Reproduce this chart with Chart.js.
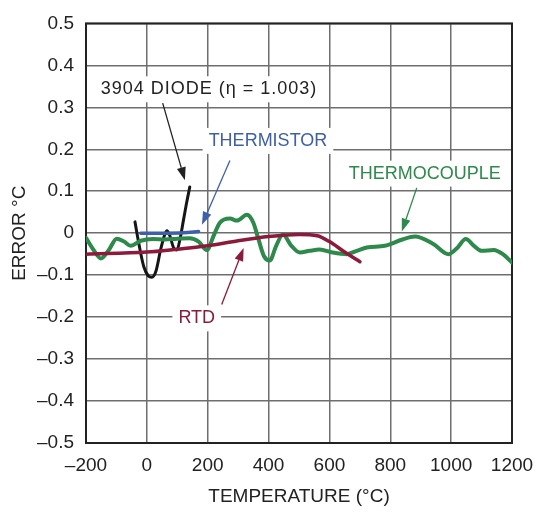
<!DOCTYPE html>
<html>
<head>
<meta charset="utf-8">
<script src="https://cdn.jsdelivr.net/npm/chart.js@4.4.1/dist/chart.umd.min.js"></script>
<style>
  html, body { margin: 0; padding: 0; background: #fff; }
  #wrap { width: 550px; height: 515px; }
</style>
</head>
<body>
<div id="wrap"><canvas id="errChart"></canvas></div>
<script>
// Axis ticks
const xTicks = [-200, 0, 200, 400, 600, 800, 1000, 1200];
const yTicks = [-0.5, -0.4, -0.3, -0.2, -0.1, 0, 0.1, 0.2, 0.3, 0.4, 0.5];

// Thermocouple error
const thermocoupleTemp = [-200, -175, -151, -125, -99, -75, -53, -20, 20, 60, 100, 141, 170, 197, 220, 240, 273, 296, 329, 350, 365, 385, 404, 425, 447, 475, 503, 535, 568, 610, 657, 690, 723, 782, 840, 881, 940, 992, 1020, 1048, 1075, 1100, 1140, 1170, 1200];
const thermocoupleErr = [-0.011, -0.04, -0.06, -0.04, -0.013, -0.02, -0.03, -0.018, -0.014, -0.015, -0.013, -0.012, -0.02, -0.04, -0.005, 0.025, 0.035, 0.03, 0.044, 0.025, -0.01, -0.055, -0.065, -0.03, -0.003, -0.03, -0.046, -0.042, -0.039, -0.046, -0.05, -0.042, -0.034, -0.03, -0.015, -0.008, -0.025, -0.05, -0.035, -0.014, -0.03, -0.042, -0.04, -0.05, -0.07];

// RTD error
const rtdTemp = [-200, 0, 100, 200, 300, 400, 500, 560, 600, 650, 700];
const rtdErr = [-0.05, -0.045, -0.038, -0.03, -0.018, -0.008, -0.003, -0.006, -0.02, -0.045, -0.068];

// Thermistor error
const thermistorTemp = [-20, 50, 120, 170];
const thermistorErr = [0.0, 0.0, 0.001, 0.004];

// 3904 diode error
const diodeTemp = [-39, -25, -10, 5, 16, 30, 45, 58, 66, 75, 88, 99, 110, 120, 130, 141];
const diodeErr = [0.027, -0.03, -0.08, -0.102, -0.105, -0.09, -0.04, -0.005, 0.006, -0.005, -0.035, -0.04, -0.01, 0.03, 0.07, 0.11];

const GREEN = '#2d8a4b';
const RED = '#8b1a3b';
const BLUE = '#3e60a8';
const BLACK = '#161616';

// Callout labels and arrows (data coordinates)
const notes = [
    { text: '3904 DIODE (\u03b7 = 1.003)', x: 204, y: 0.343, color: '#222', spacing: '1px' },
    { text: 'THERMISTOR', x: 398, y: 0.22, color: BLUE, spacing: '0px' },
    { text: 'THERMOCOUPLE', x: 913, y: 0.142, color: GREEN, spacing: '0px' },
    { text: 'RTD', x: 164, y: -0.203, color: RED, spacing: '0px' }
];
const arrows = [
    { from: [52, 0.31], to: [125, 0.126], color: '#222' },
    { from: [273, 0.173], to: [181, 0.02], color: BLUE },
    { from: [887, 0.108], to: [838, 0.004], color: GREEN },
    { from: [246, -0.17], to: [318, -0.035], color: RED }
];

function pts(xs, ys) {
    return xs.map((x, i) => ({ x: x, y: ys[i] }));
}

function dash(v) {
    if (v === 0) return '0';
    return v < 0 ? '\u2013' + Math.abs(v) : String(v);
}

const FONT = '"Liberation Sans", Arial, sans-serif';

const calloutPlugin = {
    id: 'callouts',
    beforeDatasetsDraw(chart) {
        const { ctx, chartArea: a, scales: { x, y } } = chart;
        ctx.save();
        ctx.font = '18px ' + FONT;
        ctx.textAlign = 'center';
        ctx.textBaseline = 'middle';
        notes.forEach(n => {
            const px = x.getPixelForValue(n.x);
            const py = y.getPixelForValue(n.y);
            ctx.letterSpacing = n.spacing;
            const w = ctx.measureText(n.text).width;
            ctx.fillStyle = '#fff';
            ctx.fillRect(px - w / 2 - 6, py - 13, w + 12, 26);
            ctx.fillStyle = n.color;
            ctx.fillText(n.text, px, py);
        });
        ctx.letterSpacing = '0px';
        // plot frame
        ctx.strokeStyle = '#222';
        ctx.lineWidth = 2;
        ctx.strokeRect(a.left, a.top, a.right - a.left, a.bottom - a.top);
        ctx.restore();
    },
    afterDatasetsDraw(chart) {
        const { ctx, scales: { x, y } } = chart;
        ctx.save();
        arrows.forEach(ar => {
            const x0 = x.getPixelForValue(ar.from[0]);
            const y0 = y.getPixelForValue(ar.from[1]);
            const x1 = x.getPixelForValue(ar.to[0]);
            const y1 = y.getPixelForValue(ar.to[1]);
            const ang = Math.atan2(y1 - y0, x1 - x0);
            const len = 13, half = 4.5;
            const bx = x1 - Math.cos(ang) * len;
            const by = y1 - Math.sin(ang) * len;
            ctx.strokeStyle = ar.color;
            ctx.fillStyle = ar.color;
            ctx.lineWidth = 1.3;
            ctx.beginPath();
            ctx.moveTo(x0, y0);
            ctx.lineTo(bx, by);
            ctx.stroke();
            ctx.beginPath();
            ctx.moveTo(x1, y1);
            ctx.lineTo(bx + Math.sin(ang) * half, by - Math.cos(ang) * half);
            ctx.lineTo(bx - Math.sin(ang) * half, by + Math.cos(ang) * half);
            ctx.closePath();
            ctx.fill();
        });
        ctx.restore();
    }
};

const lineStyle = {
    fill: false,
    pointRadius: 0,
    cubicInterpolationMode: 'monotone',
    borderCapStyle: 'round',
    borderJoinStyle: 'round'
};

new Chart(document.getElementById('errChart'), {
    type: 'line',
    data: {
        datasets: [
            Object.assign({ label: 'RTD', data: pts(rtdTemp, rtdErr), borderColor: RED, borderWidth: 3.5 }, lineStyle),
            Object.assign({ label: 'Thermocouple', data: pts(thermocoupleTemp, thermocoupleErr), borderColor: GREEN, borderWidth: 4 }, lineStyle),
            Object.assign({ label: 'Thermistor', data: pts(thermistorTemp, thermistorErr), borderColor: BLUE, borderWidth: 3.5 }, lineStyle),
            Object.assign({ label: '3904 Diode', data: pts(diodeTemp, diodeErr), borderColor: BLACK, borderWidth: 3 }, lineStyle)
        ]
    },
    options: {
        responsive: true,
        maintainAspectRatio: false,
        animation: false,
        layout: { padding: { left: 0, top: 18, right: 38, bottom: 0 } },
        plugins: {
            legend: { display: false },
            tooltip: { enabled: false }
        },
        scales: {
            x: {
                type: 'linear',
                min: -200,
                max: 1200,
                afterBuildTicks: s => { s.ticks = xTicks.map(v => ({ value: v })); },
                afterFit: s => { s.height = 72; },
                grid: { color: '#6e6e6e', lineWidth: 1.5, drawTicks: false },
                border: { display: false },
                ticks: {
                    padding: 11,
                    color: '#222',
                    font: { family: FONT, size: 19 },
                    maxRotation: 0,
                    callback: v => dash(v)
                },
                title: {
                    display: true,
                    text: 'TEMPERATURE (\u00b0C)',
                    color: '#222',
                    font: { family: FONT, size: 19 },
                    padding: { top: 0, bottom: 7 }
                }
            },
            y: {
                type: 'linear',
                min: -0.5,
                max: 0.5,
                afterBuildTicks: s => { s.ticks = yTicks.map(v => ({ value: v })); },
                afterFit: s => { s.width = 86; },
                grid: { color: '#6e6e6e', lineWidth: 1.5, drawTicks: false },
                border: { display: false },
                ticks: {
                    padding: 12,
                    color: '#222',
                    font: { family: FONT, size: 19 },
                    callback: v => dash(Math.round(v * 10) / 10)
                },
                title: {
                    display: true,
                    text: 'ERROR \u00b0C',
                    color: '#222',
                    font: { family: FONT, size: 19 },
                    padding: { top: 8, bottom: 0 }
                }
            }
        }
    },
    plugins: [calloutPlugin]
});
</script>
</body>
</html>
